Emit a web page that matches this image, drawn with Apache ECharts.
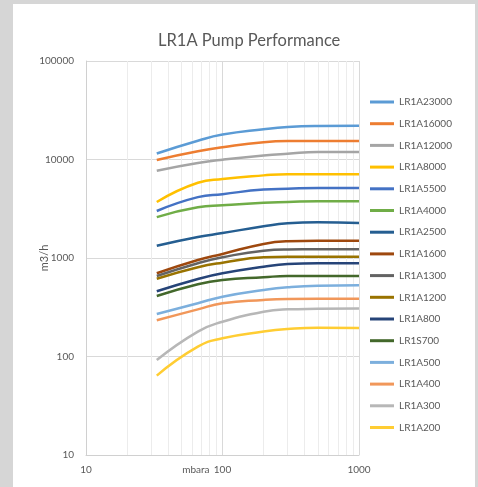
<!DOCTYPE html>
<html>
<head>
<meta charset="utf-8">
<script src="https://cdn.jsdelivr.net/npm/echarts@6/dist/echarts.min.js"></script>
<style>
	body{margin:0;background:#d6d6d6;width:478px;height:487px;overflow:hidden;}
	#echarts{position:absolute;left:13px;top:4px;width:462px;height:483px;background:#fff;}
</style>
</head>
<body>
<div id="echarts"></div>
<script type="text/javascript">
	// mbara
	var pressure = [33, 66, 100, 200, 300, 500, 1000];
	var names = ['LR1A23000','LR1A16000','LR1A12000','LR1A8000','LR1A5500','LR1A4000','LR1A2500','LR1A1600',
		'LR1A1300','LR1A1200','LR1A800','LR1S700','LR1A500','LR1A400','LR1A300','LR1A200'];
	var colors = ['#5B9BD5','#ED7D31','#A5A5A5','#FFC000','#4472C4','#70AD47','#255E91','#9E480E',
		'#636363','#997300','#264478','#43682B','#7CAFDD','#F1975A','#B7B7B7','#FFCD33'];
	// m3/h
	var lr1a23000 = [11500, 15500, 17900, 20300, 21400, 21900, 22000];
	var lr1a16000 = [9900, 12100, 13300, 15000, 15400, 15400, 15400];
	var lr1a12000 = [7700, 9200, 9950, 11000, 11450, 11900, 11900];
	var lr1a8000 = [3700, 5800, 6350, 6900, 7100, 7100, 7100];
	var lr1a5500 = [3000, 4150, 4450, 4950, 5050, 5150, 5150];
	var lr1a4000 = [2600, 3270, 3430, 3640, 3700, 3770, 3770];
	var lr1a2500 = [1330, 1630, 1790, 2100, 2250, 2300, 2270];
	var lr1a1600 = [700, 955, 1100, 1390, 1480, 1500, 1500];
	var lr1a1300 = [656, 884, 1017, 1186, 1220, 1225, 1225];
	var lr1a1200 = [616, 805, 896, 1017, 1031, 1031, 1031];
	var lr1a800 = [459, 612, 700, 816, 869, 884, 884];
	var lr1s700 = [411, 541, 598, 637, 656, 656, 656];
	var lr1a500 = [270, 347, 405, 473, 504, 523, 528];
	var lr1a400 = [233, 301, 347, 375, 384, 386, 386];
	var lr1a300 = [92, 179, 225, 285, 301, 305, 308];
	var lr1a200 = [64, 126, 153, 179, 190, 196, 195];
	var flows = [lr1a23000, lr1a16000, lr1a12000, lr1a8000, lr1a5500, lr1a4000, lr1a2500, lr1a1600,
		lr1a1300, lr1a1200, lr1a800, lr1s700, lr1a500, lr1a400, lr1a300, lr1a200];
	var minorX = [20, 30, 40, 50, 60, 70, 80, 90, 200, 300, 400, 500, 600, 700, 800, 900];

	var thechart = echarts.init(document.getElementById('echarts'));
	var grey = '#595959';
	var plain = function(v){ return String(v); };
	var theoption = {
		animation : false,
		color : colors,
		textStyle : {fontFamily : 'Lato'},
		title : {
			left : 140,
			top : 23,
			text : 'LR1A Pump Performance',
			textStyle : {fontSize : 16.5, fontWeight : 'normal', color : grey}
		},
		legend : {
			orient : 'vertical',
			left : 352,
			top : 86,
			icon : 'rect',
			itemWidth : 24,
			itemHeight : 3,
			itemGap : 7.7,
			textStyle : {fontSize : 10, color : grey, lineHeight : 14},
			data : names
		},
		grid : {left : 73, right : 116, top : 57, bottom : 32, outerBoundsMode : 'none'},
		xAxis : {
			type : 'log',
			min : 10,
			max : 1000,
			name : 'mbara',
			nameLocation : 'middle',
			nameGap : 10,
			nameMoveOverlap : false,
			nameTextStyle : {fontSize : 10, color : grey, align : 'right', verticalAlign : 'top', padding : [0, 13, 0, 0]},
			axisLine : {lineStyle : {color : '#d0d0d0'}},
			axisTick : {show : false},
			axisLabel : {fontSize : 10, color : grey, margin : 10, formatter : plain},
			splitLine : {show : true, lineStyle : {color : '#d9d9d9'}}
		},
		yAxis : {
			type : 'log',
			min : 10,
			max : 100000,
			name : 'm3/h',
			nameLocation : 'middle',
			nameGap : 36,
			nameMoveOverlap : false,
			nameTextStyle : {fontSize : 11, color : grey},
			axisLine : {show : true, lineStyle : {color : '#d0d0d0'}},
			axisTick : {show : false},
			axisLabel : {fontSize : 10, color : grey, margin : 12, formatter : plain},
			splitLine : {show : true, lineStyle : {color : '#d9d9d9'}}
		},
		series : []
	};
	for (var i=0;i<names.length;i++){
		var pts = [];
		for (var j=0;j<pressure.length;j++){
			pts.push([pressure[j], flows[i][j]]);
		}
		theoption.series.push({
			name : names[i],
			type : 'line',
			smooth : 0.5,
			symbol : 'none',
			z : 3,
			itemStyle : {color : colors[i]},
			lineStyle : {width : 2.5, color : colors[i]},
			data : pts
		});
	}
	// minor vertical gridlines
	theoption.series.push({
		type : 'line',
		data : [],
		silent : true,
		z : 1,
		markLine : {
			silent : true,
			z : 1,
			symbol : 'none',
			label : {show : false},
			lineStyle : {color : '#ececec', width : 1, type : 'solid'},
			data : minorX.map(function(v){ return {xAxis : v}; })
		}
	});
	thechart.setOption(theoption, true);
</script>
</body>
</html>
